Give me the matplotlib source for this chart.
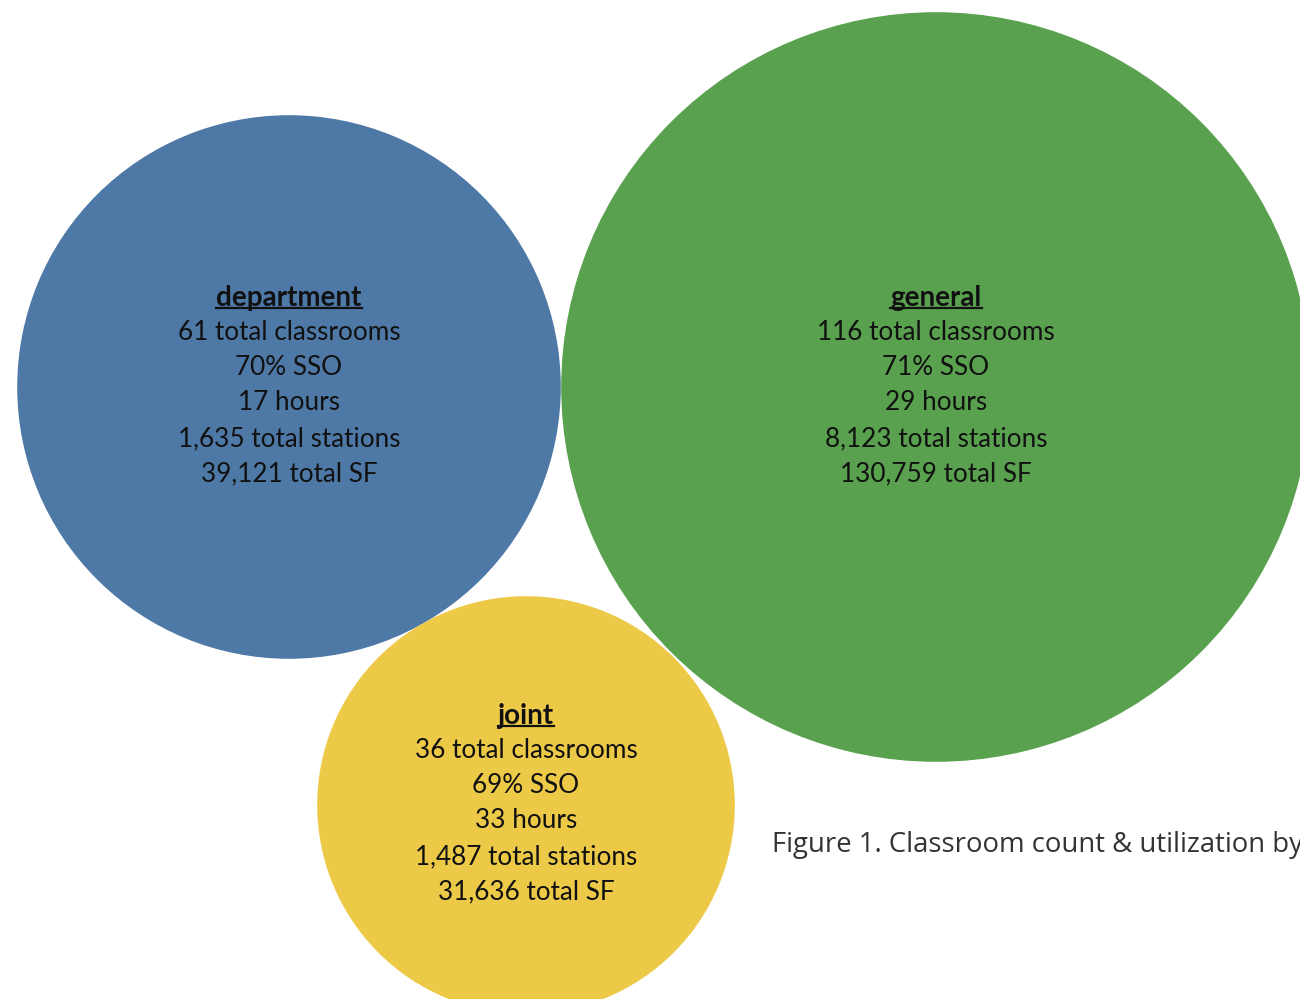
import matplotlib.pyplot as plt
from matplotlib.patches import Circle
import numpy as np

# data
groups = ["department", "general", "joint"]
classrooms = [61, 116, 36]
sso = [70, 71, 69]
hours = [17, 29, 33]
stations = [1635, 8123, 1487]
total_sf = [39121, 130759, 31636]
colors = ["#4e79a7", "#59a14f", "#edc948"]

# layout (pixel space, y down)
centers = [(289, 387), (936, 387), (526, 805)]
scale = 34.8  # radius per sqrt(classroom)

plt.rcParams["font.family"] = ["Lato", "DejaVu Sans"]

fig = plt.figure(figsize=(13, 9.99), dpi=100)
ax = fig.add_axes([0, 0, 1, 1])
ax.set_xlim(0, 1300)
ax.set_ylim(999, 0)
ax.set_aspect("equal")
ax.axis("off")

titles = []
for name, n, s, h, st, sf, c, (cx, cy) in zip(
    groups, classrooms, sso, hours, stations, total_sf, colors, centers
):
    r = scale * np.sqrt(n)
    ax.add_patch(Circle((cx, cy), r, color=c, ec="none"))
    t = ax.text(cx, cy - 89, name, ha="center", va="center",
                fontsize=20, fontweight="bold", color="#111111")
    titles.append(t)
    lines = [
        f"{n} total classrooms",
        f"{s}% SSO",
        f"{h} hours",
        f"{st:,} total stations",
        f"{sf:,} total SF",
    ]
    for i, line in enumerate(lines):
        ax.text(cx, cy - 55 + i * 35.5, line, ha="center", va="center",
                fontsize=18.8, color="#111111")

# caption runs off the right edge, as in the source
ax.text(772, 845, "Figure 1. Classroom count & utilization by",
        ha="left", va="center", fontsize=19.8, color="#333333",
        family=["Open Sans", "DejaVu Sans"])

# underline the group titles
fig.canvas.draw()
renderer = fig.canvas.get_renderer()
inv = ax.transData.inverted()
for t in titles:
    bb = t.get_window_extent(renderer)
    (x0, y0), (x1, y1) = inv.transform([(bb.x0, bb.y0), (bb.x1, bb.y1)])
    ax.plot([x0, x1], [y0 - 3, y0 - 3], color="#111111", lw=1.6)

fig.savefig("out.png", dpi=100)
